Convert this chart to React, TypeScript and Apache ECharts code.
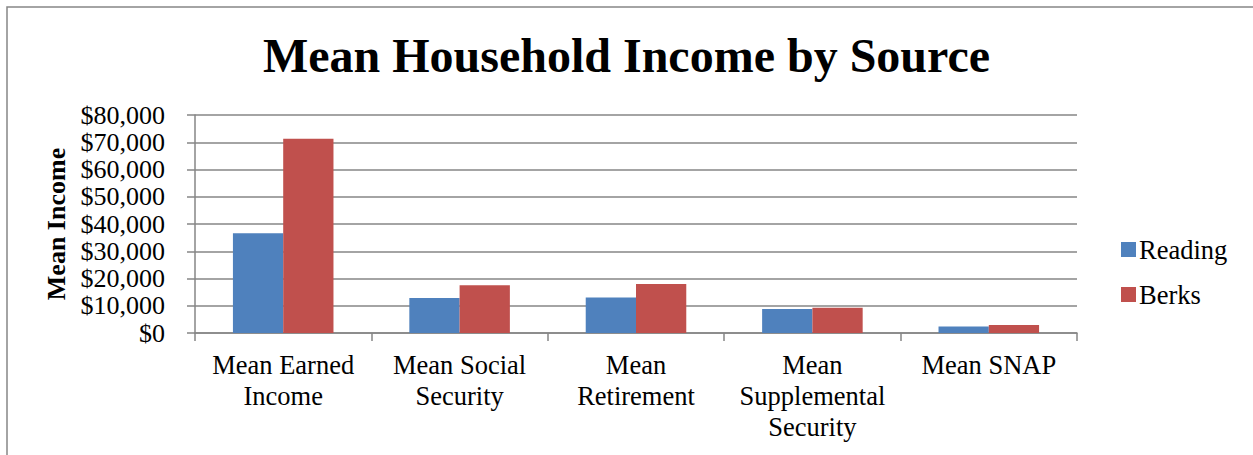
import React, { useEffect, useRef } from "react";
import * as echarts from "echarts";

const categories = [
  "Mean Earned\nIncome",
  "Mean Social\nSecurity",
  "Mean\nRetirement",
  "Mean\nSupplemental\nSecurity",
  "Mean SNAP",
];
const readingValues = [36600, 12800, 13000, 8800, 2400];
const berksValues = [71300, 17500, 18000, 9300, 2900];
const seriesNames = ["Reading", "Berks"];
const yTicks = [0, 10000, 20000, 30000, 40000, 50000, 60000, 70000, 80000];

const FONT = "'Liberation Serif', 'Times New Roman', serif";

export default function App() {
  const ref = useRef<HTMLDivElement>(null);
  useEffect(() => {
    if (!ref.current) return;
    const chart = echarts.init(ref.current, null, { renderer: "svg" });
    chart.setOption({
      animation: false,
      backgroundColor: "#ffffff",
      textStyle: { fontFamily: FONT, color: "#000" },
      graphic: [
        {
          type: "rect",
          shape: { x: 7, y: 7, width: 1270, height: 470 },
          style: { fill: "none", stroke: "#868686", lineWidth: 1.5 },
          silent: true,
        },
      ],
      title: {
        text: "Mean Household Income by Source",
        left: "center",
        top: 26,
        textStyle: { fontFamily: FONT, fontSize: 48, fontWeight: "bold", color: "#000" },
      },
      legend: {
        orient: "vertical",
        left: 1116,
        top: 231,
        itemWidth: 15,
        itemHeight: 15,
        itemGap: 18,
        icon: "rect",
        data: seriesNames,
        textStyle: { fontFamily: FONT, fontSize: 26.5, color: "#000", padding: [0, 0, 0, -2] },
      },
      grid: { left: 195, right: 176, top: 115, bottom: 122 },
      xAxis: {
        type: "category",
        data: categories,
        axisLine: { lineStyle: { color: "#868686", width: 1.5 } },
        axisTick: { show: true, length: 8, lineStyle: { color: "#868686", width: 1.5 } },
        axisLabel: {
          interval: 0,
          margin: 16,
          fontFamily: FONT,
          fontSize: 26.5,
          lineHeight: 31,
          color: "#000",
        },
      },
      yAxis: {
        type: "value",
        min: yTicks[0],
        max: yTicks[yTicks.length - 1],
        interval: 10000,
        name: "Mean Income",
        nameLocation: "middle",
        nameGap: 126,
        nameTextStyle: { fontFamily: FONT, fontSize: 26, fontWeight: "bold", color: "#000" },
        axisLine: { show: true, lineStyle: { color: "#868686", width: 1.5 } },
        axisTick: { show: true, length: 8, lineStyle: { color: "#868686", width: 1.5 } },
        splitLine: { lineStyle: { color: "#868686", width: 1.5 } },
        axisLabel: {
          margin: 30,
          fontFamily: FONT,
          fontSize: 26,
          color: "#000",
          formatter: (v: number) => "$" + v.toLocaleString("en-US"),
        },
      },
      series: [
        {
          name: seriesNames[0],
          type: "bar",
          data: readingValues,
          itemStyle: { color: "#4F81BD" },
          barGap: "0%",
          barCategoryGap: "43%",
        },
        {
          name: seriesNames[1],
          type: "bar",
          data: berksValues,
          itemStyle: { color: "#C0504D" },
          barGap: "0%",
          barCategoryGap: "43%",
        },
      ],
    });
    return () => chart.dispose();
  }, []);
  return (
    <div
      ref={ref}
      style={{ position: "absolute", left: 0, top: 0, width: 1253, height: 455 }}
    />
  );
}
